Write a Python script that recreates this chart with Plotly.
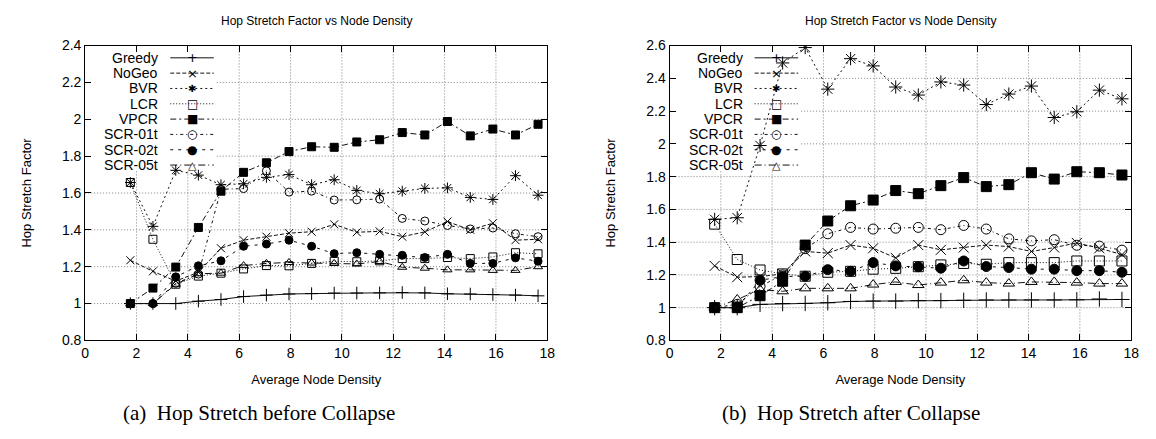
import plotly.graph_objects as go

# ---------------- data ----------------
density = [1.76, 2.64, 3.53, 4.41, 5.29, 6.17, 7.06, 7.94, 8.82, 9.70,
           10.58, 11.47, 12.35, 13.23, 14.11, 15.00, 15.88, 16.76, 17.64]

series_names = ["Greedy", "NoGeo", "BVR", "LCR", "VPCR", "SCR-01t", "SCR-02t", "SCR-05t"]

# (a) before collapse
greedy_a = [1.0, 1.0, 1.0, 1.013, 1.022, 1.038, 1.046, 1.052, 1.054, 1.057, 1.057, 1.058, 1.06, 1.058, 1.053, 1.052, 1.049, 1.046, 1.042]
nogeo_a = [1.235, 1.175, 1.122, 1.17, 1.30, 1.344, 1.363, 1.382, 1.39, 1.43, 1.387, 1.392, 1.363, 1.389, 1.445, 1.40, 1.436, 1.344, 1.349]
bvr_a = [1.657, 1.419, 1.723, 1.697, 1.645, 1.65, 1.685, 1.70, 1.645, 1.672, 1.614, 1.596, 1.61, 1.625, 1.628, 1.576, 1.565, 1.694, 1.588]
lcr_a = [1.657, 1.349, 1.105, 1.149, 1.165, 1.188, 1.206, 1.205, 1.218, 1.23, 1.227, 1.232, 1.244, 1.244, 1.25, 1.244, 1.253, 1.276, 1.27]
vpcr_a = [1.0, 1.084, 1.198, 1.413, 1.61, 1.712, 1.764, 1.825, 1.851, 1.848, 1.877, 1.889, 1.928, 1.915, 1.988, 1.91, 1.947, 1.915, 1.973]
scr01_a = [1.0, 1.0, 1.11, 1.16, 1.62, 1.624, 1.72, 1.605, 1.61, 1.562, 1.563, 1.567, 1.462, 1.448, 1.424, 1.405, 1.41, 1.379, 1.363]
scr02_a = [1.0, 1.0, 1.145, 1.205, 1.232, 1.311, 1.323, 1.344, 1.311, 1.271, 1.276, 1.267, 1.262, 1.25, 1.267, 1.218, 1.218, 1.248, 1.23]
scr05_a = [1.0, 1.0, 1.105, 1.162, 1.165, 1.206, 1.218, 1.223, 1.22, 1.218, 1.215, 1.228, 1.197, 1.192, 1.183, 1.183, 1.18, 1.18, 1.20]

# (b) after collapse
greedy_b = [1.0, 1.0, 1.02, 1.025, 1.026, 1.03, 1.038, 1.04, 1.04, 1.043, 1.043, 1.045, 1.047, 1.047, 1.047, 1.047, 1.048, 1.053, 1.05]
nogeo_b = [1.255, 1.186, 1.19, 1.206, 1.343, 1.333, 1.382, 1.363, 1.304, 1.382, 1.353, 1.367, 1.382, 1.373, 1.343, 1.367, 1.395, 1.363, 1.324]
bvr_b = [1.539, 1.549, 1.99, 2.494, 2.588, 2.334, 2.52, 2.476, 2.347, 2.298, 2.378, 2.359, 2.24, 2.304, 2.353, 2.161, 2.196, 2.328, 2.275]
lcr_b = [1.51, 1.294, 1.23, 1.206, 1.192, 1.216, 1.222, 1.235, 1.24, 1.25, 1.261, 1.27, 1.265, 1.275, 1.275, 1.275, 1.285, 1.285, 1.285]
vpcr_b = [1.0, 1.0, 1.073, 1.161, 1.382, 1.529, 1.622, 1.657, 1.715, 1.696, 1.745, 1.794, 1.739, 1.751, 1.824, 1.785, 1.83, 1.824, 1.81]
scr01_b = [1.0, 1.02, 1.13, 1.20, 1.36, 1.451, 1.49, 1.48, 1.485, 1.49, 1.476, 1.502, 1.48, 1.42, 1.408, 1.415, 1.381, 1.376, 1.351]
scr02_b = [1.0, 1.0, 1.167, 1.19, 1.192, 1.232, 1.222, 1.275, 1.255, 1.25, 1.241, 1.285, 1.251, 1.245, 1.235, 1.235, 1.226, 1.226, 1.216]
scr05_b = [1.0, 1.05, 1.11, 1.10, 1.118, 1.118, 1.118, 1.141, 1.157, 1.138, 1.153, 1.167, 1.153, 1.147, 1.157, 1.157, 1.153, 1.147, 1.147]

values_a = [greedy_a, nogeo_a, bvr_a, lcr_a, vpcr_a, scr01_a, scr02_a, scr05_a]
values_b = [greedy_b, nogeo_b, bvr_b, lcr_b, vpcr_b, scr01_b, scr02_b, scr05_b]

x_ticks = [0, 2, 4, 6, 8, 10, 12, 14, 16, 18]
y_ticks_a = [0.8, 1.0, 1.2, 1.4, 1.6, 1.8, 2.0, 2.2, 2.4]
y_ticks_b = [0.8, 1.0, 1.2, 1.4, 1.6, 1.8, 2.0, 2.2, 2.4, 2.6]
title_text = "Hop Stretch Factor vs Node Density"
x_title = "Average Node Density"
y_title = "Hop Stretch Factor"
captions = ["(a)\u00a0\u00a0Hop Stretch before Collapse", "(b)\u00a0\u00a0Hop Stretch after Collapse"]

# ---------------- styles ----------------
symbols = ["cross-thin", "x-thin", "asterisk", "square-open", "square", "circle-open", "circle", "triangle-up-open"]
dashes = ["solid", "4px,2px", "2px,3px", "1px,2px", "6px,3px,2px,3px", "3px,3px,1px,3px", "3px,5px", "7px,3px,1px,3px"]
legend_glyphs = ["+", "×", "✱", "□", "■", "○", "●", "△"]
glyph_sizes = [13, 13, 10, 12, 12, 12, 12, 11]
sizes_a = [9, 8, 9, 8, 8, 8, 8, 8]
sizes_b = [11, 10, 11, 10, 10, 10, 10, 10]

W, H = 1156, 439
sans = "Liberation Sans, Arial, sans-serif"
serif = "Liberation Serif, Times New Roman, serif"

def fx(px):
    return px / W

def fy(py):
    return 1 - py / H

fig = go.Figure()

for panel, (vals, sizes) in enumerate([(values_a, sizes_a), (values_b, sizes_b)]):
    xa = "x" if panel == 0 else "x2"
    ya = "y" if panel == 0 else "y2"
    for i, name in enumerate(series_names):
        fig.add_trace(go.Scatter(
            x=density, y=vals[i], name=name, mode="lines+markers",
            xaxis=xa, yaxis=ya, showlegend=False,
            line=dict(color="#111", width=1, dash=dashes[i]),
            marker=dict(symbol=symbols[i], size=sizes[i], color="black",
                        line=dict(color="black", width=1)),
        ))

# plot areas in page pixels
left_px = [(82, 549), (672.5, 1139)]
top_px, bot_px = 39, 345
plot_h = bot_px - top_px
dom_y = [fy(bot_px), fy(top_px)]

axis_common = dict(
    showline=True, linecolor="black", linewidth=1, mirror="allticks",
    ticks="inside", ticklen=6, tickcolor="black",
    showgrid=False, zeroline=False,
    tickfont=dict(family=sans, size=14, color="black"),
)
title_font = dict(family=sans, size=13, color="black")

fig.update_layout(
    width=W, height=H, margin=dict(l=0, r=0, t=0, b=0),
    paper_bgcolor="white", plot_bgcolor="white", showlegend=False,
    xaxis=dict(domain=[fx(left_px[0][0]), fx(left_px[0][1])], range=[0, 18], tickvals=x_ticks,
               anchor="y", title=dict(text=x_title, font=title_font, standoff=14), **axis_common),
    yaxis=dict(domain=dom_y, range=[0.8, 2.4], tickvals=y_ticks_a, anchor="x",
               title=dict(text=y_title, font=title_font, standoff=27), **axis_common),
    xaxis2=dict(domain=[fx(left_px[1][0]), fx(left_px[1][1])], range=[0, 18], tickvals=x_ticks,
                anchor="y2", title=dict(text=x_title, font=title_font, standoff=14), **axis_common),
    yaxis2=dict(domain=dom_y, range=[0.8, 2.6], tickvals=y_ticks_b, anchor="x2",
                title=dict(text=y_title, font=title_font, standoff=27), **axis_common),
)

shapes = []
annotations = []
grid_line = dict(color="#808080", width=1, dash="1px,2px")
box_w_px, box_h_px = 133, 129  # key box (grid hidden behind it)

for panel in range(2):
    pw = left_px[panel][1] - left_px[panel][0]
    xn = "x" if panel == 0 else "x2"
    yn = "y" if panel == 0 else "y2"
    yticks = y_ticks_a if panel == 0 else y_ticks_b
    ymin, ymax = yticks[0], yticks[-1]
    box_xf = box_w_px / pw
    box_yf = 1 - box_h_px / plot_h

    # dotted grid lines, interrupted by the key box
    for xv in x_ticks[1:-1]:
        top = box_yf if xv / 18 < box_xf else 1
        shapes.append(dict(type="line", xref=xn, yref=yn + " domain", x0=xv, x1=xv,
                           y0=0, y1=top, line=grid_line, layer="below"))
    for yv in yticks[1:-1]:
        left = box_xf if (yv - ymin) / (ymax - ymin) > box_yf else 0
        shapes.append(dict(type="line", xref=xn + " domain", yref=yn, x0=left, x1=1,
                           y0=yv, y1=yv, line=grid_line, layer="below"))

    # key: label, line sample, marker glyph
    for i, name in enumerate(series_names):
        yd = 1 - (12.7 + 15.9 * i) / plot_h
        annotations.append(dict(xref=xn + " domain", yref=yn + " domain", x=76 / pw, y=yd,
                                text=name, xanchor="right", yanchor="middle", showarrow=False,
                                font=dict(family=sans, size=14, color="black")))
        shapes.append(dict(type="line", xref=xn + " domain", yref=yn + " domain",
                           x0=86 / pw, x1=130 / pw, y0=yd, y1=yd,
                           line=dict(color="#111", width=1, dash=dashes[i]), layer="below"))
        annotations.append(dict(xref=xn + " domain", yref=yn + " domain", x=108 / pw, y=yd,
                                text=legend_glyphs[i], xanchor="center", yanchor="middle",
                                showarrow=False,
                                font=dict(family="DejaVu Sans", size=glyph_sizes[i], color="black")))
    cx = fx((left_px[panel][0] + left_px[panel][1]) / 2)
    annotations.append(dict(xref="paper", yref="paper", x=cx, y=fy(13), text=title_text,
                            xanchor="center", yanchor="middle", showarrow=False,
                            font=dict(family=sans, size=12, color="black")))

cap_x = [258, 856]
for panel in range(2):
    annotations.append(dict(xref="paper", yref="paper", x=fx(cap_x[panel]), y=fy(420),
                            text=captions[panel], xanchor="center", yanchor="middle",
                            showarrow=False, font=dict(family=serif, size=21, color="black")))

fig.update_layout(shapes=shapes, annotations=annotations)
fig.write_html("out.html", config={"displayModeBar": False},
               post_script="document.body.style.margin='0px';document.body.style.overflow='hidden';")
